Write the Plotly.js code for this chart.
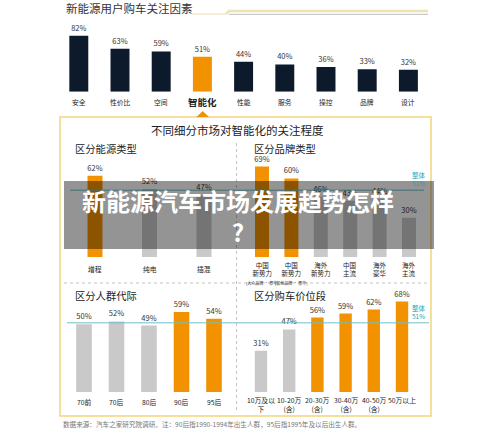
<!DOCTYPE html>
<html>
<head>
<meta charset="utf-8">
<script src="https://cdn.plot.ly/plotly-3.0.1.min.js"></script>
<style>html,body{margin:0;padding:0;background:#fff;}#chart{width:500px;height:430px;}</style>
</head>
<body>
<div id="chart"></div>
<script>
// ---- data ----
const topCats = ['安全','性价比','空间','智能化','性能','服务','操控','品牌','设计'];
const topVals = [82,63,59,51,44,40,36,33,32];
const energyCats = ['增程','纯电','插混'];
const energyVals = [62,52,47];
const brandCats = ['中国<br>新势力<br><span style="font-size:4px">(大众品牌 · 豪华)</span>','中国<br>新势力<br><span style="font-size:4px">(其他品牌 · 豪华)</span>','海外<br>新势力','中国<br>主流','海外<br>豪华','海外<br>主流'];
const brandVals = [69,60,46,43,44,30];
const genCats = ['70前','70后','80后','90后','95后'];
const genVals = [50,52,49,59,54];
const priceCats = ['10万及以<br>下','10-20万<br>(含)','20-30万<br>(含)','30-40万<br>(含)','40-50万<br>(含)','50万以上'];
const priceVals = [31,47,56,59,62,68];
const overall = 51;
const overallLabel = '整体<br>51%';
const mainTitle = '新能源用户购车关注因素';
const boxTitle = '不同细分市场对智能化的关注程度';
const subTitles = ['区分能源类型','区分品牌类型','区分人群代际','区分购车价位段'];
const overlayText = '新能源汽车市场发展趋势怎样<br>?';
const footnote = '数据来源：汽车之家研究院调研。注：90后指1990-1994年出生人群，95后指1995年及以后出生人群。';
const highlightCat = '智能化';

// ---- style helpers ----
const W = 500, H = 430;
const X = px => px / W;
const P = py => 1 - py / H;
const FONT = '"Noto Sans CJK SC", "Noto Sans", sans-serif';
const NAVY = '#0c1a2c', ORANGE = '#f39200', GRAY = '#c9c9c9', TEAL = '#22a3b3';
const segColor = v => v >= 54 ? ORANGE : GRAY;

function xdom(firstCenter, step, n) { const l = firstCenter - step / 2; return [X(l), X(l + step * n)]; }
function ydom(bottom, pxPerUnit) { return [P(bottom), P(bottom - pxPerUnit * 100)]; }

function barTrace(cats, vals, axis, colors, width, fs) {
  return {
    type: 'bar', x: cats.map((c, i) => i), y: vals,
    xaxis: 'x' + axis, yaxis: 'y' + axis,
    marker: { color: colors }, width: width,
    texttemplate: '%{y}%', textposition: 'outside', constraintext: 'none', cliponaxis: false,
    textfont: { family: FONT, size: fs, color: '#333' }, hoverinfo: 'skip', showlegend: false
  };
}

const data = [
  barTrace(topCats, topVals, '', topCats.map(c => c === highlightCat ? ORANGE : NAVY), 0.46, 7.5),
  barTrace(energyCats, energyVals, '2', energyVals.map(segColor), 0.275, 7.5),
  barTrace(brandCats, brandVals, '3', brandVals.map(segColor), 0.476, 7.5),
  barTrace(genCats, genVals, '4', genVals.map(segColor), 0.48, 7.5),
  barTrace(priceCats, priceVals, '5', priceVals.map(segColor), 0.44, 7.5)
];

function xa(dom, n) { return { domain: dom, range: [-0.5, n - 0.5], visible: false, fixedrange: true }; }
function ya(dom) { return { domain: dom, range: [0, 100], visible: false, fixedrange: true }; }

const layout = {
  width: W, height: H, margin: { l: 0, r: 0, t: 0, b: 0 },
  paper_bgcolor: '#fff', plot_bgcolor: 'rgba(0,0,0,0)',
  font: { family: FONT }, showlegend: false,
  xaxis: xa(xdom(78.8, 41.2, 9), 9), yaxis: ya(ydom(91.7, 0.683)),
  xaxis2: xa(xdom(95, 54.5, 3), 3), yaxis2: ya(ydom(257, 1.31)),
  xaxis3: xa(xdom(262, 29.4, 6), 6), yaxis3: ya(ydom(257, 1.31)),
  xaxis4: xa(xdom(84, 32.5, 5), 5), yaxis4: ya(ydom(392, 1.356)),
  xaxis5: xa(xdom(261, 28.2, 6), 6), yaxis5: ya(ydom(392, 1.33)),
  shapes: [], annotations: []
};

const S = layout.shapes, A = layout.annotations;
// header decoration lines
S.push({ type: 'line', xref: 'paper', yref: 'paper', x0: X(192), x1: X(226), y0: P(14), y1: P(14), line: { color: '#e9dfae', width: 1 } });
S.push({ type: 'path', xref: 'paper', yref: 'paper', path: `M ${X(226)} ${P(14)} L ${X(229)} ${P(11)} L ${X(428)} ${P(11)}`, line: { color: '#ece3b4', width: 2.5 } });
S.push({ type: 'line', xref: 'paper', yref: 'paper', x0: X(229), x1: X(428), y0: P(14.3), y1: P(14.3), line: { color: '#bdbdbd', width: 1 } });
// gold box
S.push({ type: 'rect', xref: 'paper', yref: 'paper', x0: X(60), x1: X(431), y0: P(416), y1: P(117), line: { color: '#f3d47e', width: 1.5 }, layer: 'below' });
// triangle
S.push({ type: 'path', xref: 'paper', yref: 'paper', path: `M ${X(196.5)} ${P(117)} L ${X(202.7)} ${P(111)} L ${X(209)} ${P(117)} Z`, fillcolor: ORANGE, line: { width: 0 } });
// dashed dividers
S.push({ type: 'line', xref: 'paper', yref: 'paper', x0: X(236.5), x1: X(236.5), y0: P(143), y1: P(412), line: { color: '#c4c4c4', width: 1, dash: 'dot' }, layer: 'below' });
S.push({ type: 'line', xref: 'paper', yref: 'paper', x0: X(64), x1: X(428), y0: P(283), y1: P(283), line: { color: '#c4c4c4', width: 1, dash: 'dot' }, layer: 'below' });
// overall reference lines
S.push({ type: 'line', xref: 'paper', yref: 'y2', x0: X(70), x1: X(424), y0: overall, y1: overall, line: { color: '#6fbfc6', width: 1 } });
S.push({ type: 'line', xref: 'paper', yref: 'y4', x0: X(67), x1: X(429), y0: overall, y1: overall, line: { color: '#6fbfc6', width: 1 } });
// overlay band
S.push({ type: 'rect', xref: 'paper', yref: 'paper', x0: X(64), x1: X(434), y0: P(249), y1: P(181), fillcolor: 'rgba(0,0,0,0.42)', line: { width: 0 }, layer: 'above' });

function txt(text, px, py, size, opts) {
  A.push(Object.assign({ text: text, xref: 'paper', yref: 'paper', x: X(px), y: P(py), xanchor: 'center', yanchor: 'middle', showarrow: false, font: { family: FONT, size: size, color: '#222' }, borderpad: 0 }, opts || {}));
}
txt(mainTitle, 65, 7.5, 11.5, { xanchor: 'left', font: { family: FONT, size: 11.5, color: '#333' } });
txt(boxTitle, 237.5, 130, 11.5);
txt(subTitles[0], 74, 148, 10.3, { xanchor: 'left' });
txt(subTitles[1], 253, 148, 10.3, { xanchor: 'left' });
txt(subTitles[2], 74, 295, 10.3, { xanchor: 'left' });
txt(subTitles[3], 253, 295, 10.3, { xanchor: 'left' });
txt(overallLabel, 419, 179, 6.5, { font: { family: FONT, size: 6.5, color: TEAL } });
txt(overallLabel, 419, 312, 6.5, { font: { family: FONT, size: 6.5, color: TEAL } });
txt(footnote, 62, 423.5, 6.6, { xanchor: 'left', font: { family: FONT, size: 6.6, color: '#777' } });

function catLabels(cats, axis, py, size, anchor) {
  cats.forEach((c, i) => {
    const bold = c === highlightCat;
    A.push({ text: bold ? '<b>' + c + '</b>' : c, xref: 'x' + axis, yref: 'paper', x: i, y: P(py),
      xanchor: 'center', yanchor: anchor, showarrow: false, borderpad: 0,
      font: { family: FONT, size: bold ? 9.5 : size, color: '#222' } });
  });
}
catLabels(topCats, '', 101.7, 6.8, 'middle');
catLabels(energyCats, '2', 269, 6.8, 'middle');
catLabels(brandCats, '3', 258.5, 6.5, 'top');
catLabels(genCats, '4', 401.7, 6.8, 'middle');
catLabels(priceCats, '5', 393.5, 6.8, 'top');

// overlay headline
A.push({ text: '<b>' + overlayText + '</b>', xref: 'paper', yref: 'paper', x: X(237.5), y: P(216.5), xanchor: 'center', yanchor: 'middle', showarrow: false,
  font: { family: FONT, size: 24, color: '#fff' } });

Plotly.newPlot('chart', data, layout, { displayModeBar: false, staticPlot: true });
</script>
</body>
</html>
